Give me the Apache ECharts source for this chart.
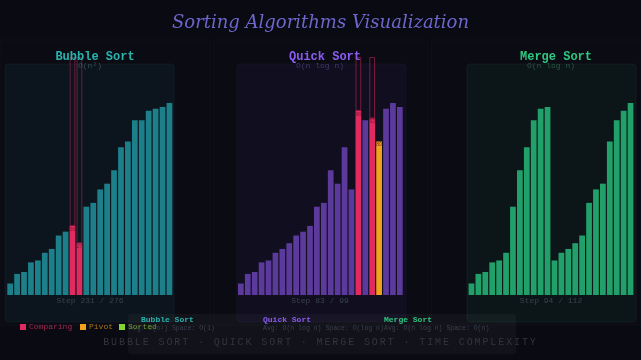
<!DOCTYPE html>
<html>
<head>
<meta charset="utf-8">
<script src="https://cdn.jsdelivr.net/npm/echarts@6/dist/echarts.min.js"></script>
<style>
  html, body { margin: 0; padding: 0; background: #090a12; }
  #wrap { position: relative; width: 641px; height: 360px; }
  #chart { width: 641px; height: 360px; }
  .footer {
    position: absolute; left: 0; width: 641px; top: 337px;
    text-align: center; font-family: "Liberation Mono", monospace;
    font-size: 10px; letter-spacing: 1.9px; color: #34343f;
  }
</style>
</head>
<body>
<div id="wrap">
  <div id="chart"></div>
  <div class="footer">BUBBLE SORT · QUICK SORT · MERGE SORT · TIME COMPLEXITY</div>
</div>
<script>
// bar heights (max 100)
const bubbleValues = [6, 11, 12, 17, 18, 22, 24, 31, 33, 36, 27, 46, 48, 55, 58, 65, 77, 80, 91, 91, 96, 97, 98, 100];
const quickValues = [6, 11, 12, 17, 18, 22, 24, 27, 31, 33, 36, 46, 48, 65, 58, 77, 55, 96, 91, 92, 80, 97, 100, 98];
const mergeValues = [6, 11, 12, 17, 18, 22, 46, 65, 77, 91, 97, 98, 18, 22, 24, 27, 31, 48, 55, 58, 80, 91, 96, 100];

const bubbleComparing = [9, 10];
const quickComparing = [17, 19];
const quickPivot = 20;

const panelNames = ['Bubble Sort', 'Quick Sort', 'Merge Sort'];
const complexities = ['O(n²)', 'O(n log n)', 'O(n log n)'];
const stepLabels = ['Step 231 / 276', 'Step 83 / 99', 'Step 94 / 112'];
const avgLabels = ['Avg: O(n²) Space: O(1)', 'Avg: O(n log n) Space: O(log n)', 'Avg: O(n log n) Space: O(n)'];

const Y_MAX = 124;
const barColors = ['#1c7f89', '#5b3a9c', '#21a06a'];
const titleColors = ['#2ab3ad', '#8c5cf0', '#2ec77f'];
const dimColors = ['#33505a', '#45386a', '#2c5645'];
const pink = '#e02a60';
const orange = '#f0a21c';
const green = '#86d430';

const grids = [
    { left: 6.7, width: 166.2, top: 57, bottom: 65 },
    { left: 237.4, width: 165.9, top: 57, bottom: 65 },
    { left: 468, width: 166, top: 57, bottom: 65 }
];
const centers = [90, 320, 551];

var myChart = echarts.init(document.getElementById('chart'));

function makeData(values, idx) {
    return values.map((v, i) => {
        let color = barColors[idx];
        if (idx === 0 && bubbleComparing.includes(i)) color = pink;
        if (idx === 1 && quickComparing.includes(i)) color = pink;
        if (idx === 1 && i === quickPivot) color = orange;
        const hl = color === pink || color === orange;
        return {
            value: v,
            itemStyle: { color: color },
            label: hl ? { show: true, position: 'insideTop', distance: 1, fontSize: 5, color: '#7a1a30', formatter: '{c}' } : { show: false }
        };
    });
}

function outlineData(values, list) {
    return values.map((v, i) => list.includes(i) ? Y_MAX - v : '-');
}

const allValues = [bubbleValues, quickValues, mergeValues];

const series = [];
allValues.forEach((vals, k) => {
    series.push({
        type: 'bar',
        xAxisIndex: k,
        yAxisIndex: k,
        stack: 's' + k,
        barCategoryGap: '17%',
        data: makeData(vals, k),
        silent: true
    });
});
// outline boxes above the compared bars
series.push({
    type: 'bar', xAxisIndex: 0, yAxisIndex: 0, stack: 's0',
    data: outlineData(bubbleValues, bubbleComparing),
    itemStyle: { color: 'rgba(0,0,0,0)', borderColor: 'rgba(224,42,96,0.45)', borderWidth: 1 },
    silent: true
});
series.push({
    type: 'bar', xAxisIndex: 1, yAxisIndex: 1, stack: 's1',
    data: outlineData(quickValues, quickComparing),
    itemStyle: { color: 'rgba(0,0,0,0)', borderColor: 'rgba(224,42,96,0.5)', borderWidth: 1 },
    silent: true,
    markLine: {
        silent: true,
        symbol: 'none',
        label: { show: false },
        lineStyle: { color: 'rgba(240,162,28,0.6)', type: 'dotted', width: 1 },
        data: [[{ coord: [quickPivot, quickValues[quickPivot]] }, { coord: [quickPivot, Y_MAX + 3] }]]
    }
});

const xAxes = grids.map((g, k) => ({
    type: 'category', gridIndex: k,
    data: allValues[k].map((v, i) => i),
    axisLine: { show: false }, axisTick: { show: false }, axisLabel: { show: false }
}));
const yAxes = grids.map((g, k) => ({
    type: 'value', gridIndex: k, min: 0, max: Y_MAX,
    splitLine: { show: false }, axisLine: { show: false }, axisLabel: { show: false }, axisTick: { show: false }
}));

const panelBgs = [
    { x: 5, color: 'rgba(20,60,70,0.2)', border: 'rgba(40,90,100,0.16)' },
    { x: 237, color: 'rgba(40,30,80,0.2)', border: 'rgba(70,55,120,0.16)' },
    { x: 467, color: 'rgba(20,70,50,0.18)', border: 'rgba(40,100,75,0.16)' }
];

const graphic = [];
// column bands
[[0, 210], [213, 428], [431, 641]].forEach(([a, b]) => {
    graphic.push({ type: 'rect', z: -2, shape: { x: a, y: 40, width: b - a, height: 285 },
        style: { fill: 'rgba(255,255,255,0.008)', stroke: 'rgba(255,255,255,0.025)', lineWidth: 1 } });
});
panelBgs.forEach(p => {
    graphic.push({ type: 'rect', z: -1, shape: { x: p.x, y: 64, width: 169, height: 258, r: 3 },
        style: { fill: p.color, stroke: p.border, lineWidth: 1 } });
});
// complexity box
graphic.push({ type: 'rect', z: -1, shape: { x: 128, y: 314, width: 388, height: 40, r: 3 },
    style: { fill: 'rgba(255,255,255,0.035)' } });
const boxX = [141, 263, 384];
panelNames.forEach((n, k) => {
    graphic.push({ type: 'text', x: boxX[k], y: 316, style: { text: n, fill: titleColors[k], font: 'bold 8px "Liberation Mono", monospace' } });
    graphic.push({ type: 'text', x: k === 0 ? 129 : boxX[k], y: 325, style: { text: avgLabels[k], fill: '#3c404c', font: '6.5px "Liberation Mono", monospace' } });
});
stepLabels.forEach((s, k) => {
    graphic.push({ type: 'text', x: centers[k], y: 297, style: { text: s, fill: '#3a434b', font: '8px "Liberation Mono", monospace', textAlign: 'center' } });
});
complexities.forEach((s, k) => {
    graphic.push({ type: 'text', x: centers[k], y: 62, style: { text: s, fill: dimColors[k], font: '8px "Liberation Mono", monospace', textAlign: 'center' } });
});
// legend
const legendItems = [
    { name: 'Comparing', color: pink, text: '#a82550', x: 20 },
    { name: 'Pivot', color: orange, text: '#a87518', x: 80 },
    { name: 'Sorted', color: green, text: '#6b9a30', x: 119 }
];
legendItems.forEach(it => {
    graphic.push({ type: 'rect', shape: { x: it.x, y: 324, width: 6, height: 6 }, style: { fill: it.color } });
    graphic.push({ type: 'text', x: it.x + 9, y: 323, style: { text: it.name, fill: it.text, font: '8px "Liberation Mono", monospace' } });
});

myChart.setOption({
    backgroundColor: '#090a12',
    animation: false,
    title: [
        { text: 'Sorting Algorithms Visualization', left: 'center', top: 9,
          textStyle: { color: '#6e66cc', fontFamily: 'DejaVu Serif', fontStyle: 'italic', fontWeight: 'normal', fontSize: 18 } },
        ...panelNames.map((n, k) => ({
            text: n, left: centers[k], top: 46, textAlign: 'center',
            textStyle: { color: titleColors[k], fontFamily: 'Liberation Mono', fontWeight: 'bold', fontSize: 12 }
        }))
    ],
    grid: grids,
    xAxis: xAxes,
    yAxis: yAxes,
    graphic: graphic,
    series: series
});
</script>
</body>
</html>
